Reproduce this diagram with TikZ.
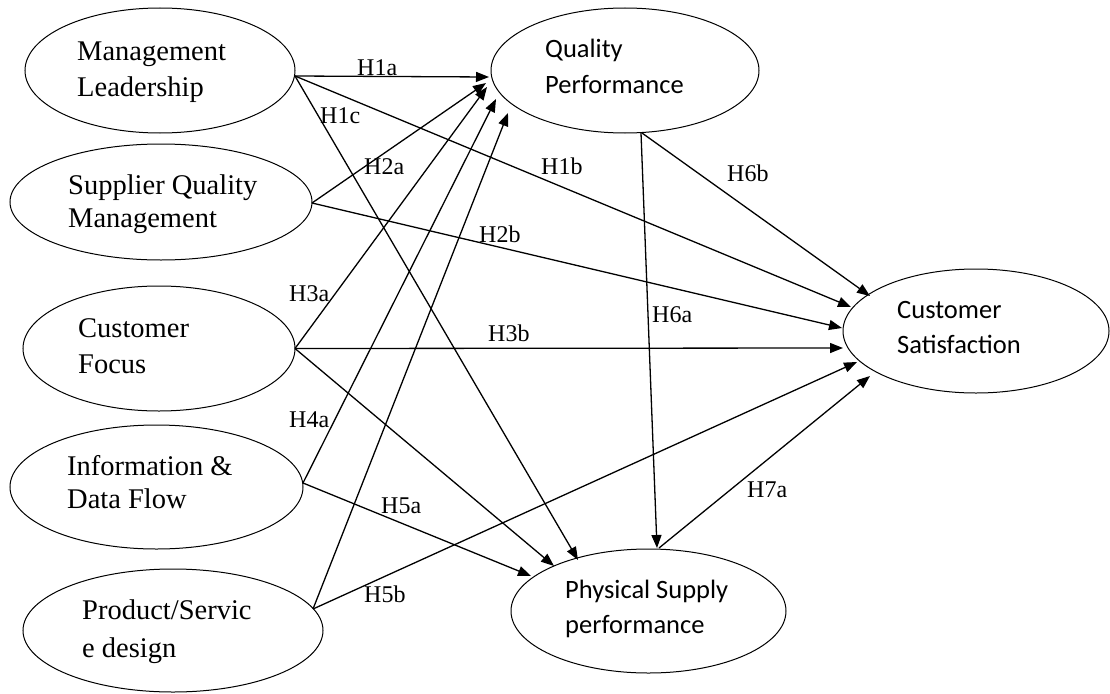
\documentclass[tikz,border=0pt]{standalone}
\usepackage{fontspec}
\setmainfont{Liberation Serif}
\newfontfamily\calibrifont{Carlito}
\usetikzlibrary{arrows.meta,shapes.geometric}

\begin{document}
\begin{tikzpicture}[x=1pt,y=-1pt,
  construct/.style={draw, ellipse, line width=1pt, inner sep=0pt, outer sep=0pt},
  serifname/.style={anchor=base west, inner sep=0pt, font=\fontsize{28.5}{34}\selectfont},
  sansname/.style={anchor=base west, inner sep=0pt, font=\calibrifont\fontsize{26.5}{32}\selectfont},
  hyp/.style={anchor=base west, inner sep=0pt, font=\fontsize{24}{28}\selectfont},
  link/.style={line width=1.3pt, -{Triangle[length=13pt,width=10pt]}}
]
\useasboundingbox (0,0) rectangle (1110,693);

% constructs
\node[construct, minimum width=270pt, minimum height=125pt] (ml)  at (160,70.5) {};
\node[construct, minimum width=302pt, minimum height=116pt] (sqm) at (161,202) {};
\node[construct, minimum width=272pt, minimum height=125pt] (cf)  at (159,348.5) {};
\node[construct, minimum width=293pt, minimum height=124pt] (idf) at (156.5,487) {};
\node[construct, minimum width=300pt, minimum height=123pt] (psd) at (173,630.5) {};
\node[construct, minimum width=268pt, minimum height=125pt] (qp)  at (625,70.5) {};
\node[construct, minimum width=266pt, minimum height=124pt] (cs)  at (976,331) {};
\node[construct, minimum width=275pt, minimum height=124pt] (psp) at (648.5,611) {};

% construct names
\node[serifname] (ml-a)  at (77,60)  {Management};
\node[serifname] (ml-b)  at (77,96)  {Leadership};
\node[serifname] (sqm-a) at (68,194) {Supplier Quality};
\node[serifname] (sqm-b) at (68,227) {Management};
\node[serifname] (cf-a)  at (78,337) {Customer};
\node[serifname] (cf-b)  at (78,373) {Focus};
\node[serifname] (idf-a) at (67,475) {Information \&};
\node[serifname] (idf-b) at (67,508) {Data Flow};
\node[serifname] (psd-a) at (82,619) {Product/Servic};
\node[serifname] (psd-b) at (82,657) {e design};
\node[sansname]  (qp-a)  at (545,58)  {Quality};
\node[sansname]  (qp-b)  at (545,93)  {Performance};
\node[sansname]  (cs-a)  at (897,318) {Customer};
\node[sansname]  (cs-b)  at (897,353) {Satisfaction};
\node[sansname]  (psp-a) at (565,598) {Physical Supply};
\node[sansname]  (psp-b) at (565,633) {performance};

% paths into Quality Performance
\draw[link] ([shift={(135,5.5)}]ml.center)   -- ([shift={(-136,6.5)}]qp.center);
\draw[link] ([shift={(151,1)}]sqm.center)    -- ([shift={(-139,12.5)}]qp.center);
\draw[link] ([shift={(136,0)}]cf.center)     -- ([shift={(-138,16.5)}]qp.center);
\draw[link] ([shift={(146.5,-4)}]idf.center) -- ([shift={(-129,28.5)}]qp.center);
\draw[link] ([shift={(140,-21.5)}]psd.center) -- ([shift={(-117,42.5)}]qp.center);

% paths into Customer Satisfaction
\draw[link] ([shift={(135,5.5)}]ml.center)   -- ([shift={(-125,-24)}]cs.center);
\draw[link] ([shift={(151,1)}]sqm.center)    -- ([shift={(-134,-3)}]cs.center);
\draw[link] ([shift={(136,0)}]cf.center)     -- ([shift={(-133,17)}]cs.center);
\draw[link] ([shift={(140,-21.5)}]psd.center) -- ([shift={(-119,31)}]cs.center);
\draw[link] ([shift={(17,62.5)}]qp.center)   -- ([shift={(-106,-35)}]cs.center);
\draw[link] ([shift={(10.5,-63)}]psp.center) -- ([shift={(-106,45)}]cs.center);

% paths into Physical Supply performance
\draw[link] ([shift={(135,5.5)}]ml.center)   -- ([shift={(-70.5,-51)}]psp.center);
\draw[link] ([shift={(136,0)}]cf.center)     -- ([shift={(-94.5,-45)}]psp.center);
\draw[link] ([shift={(146.5,-4)}]idf.center) -- ([shift={(-117.5,-35)}]psp.center);
\draw[link] ([shift={(16,62.5)}]qp.center)   -- ([shift={(8.5,-63)}]psp.center);

% hypothesis labels
\node[hyp] (h1a) at (357,75)  {H1a};
\node[hyp] (h1b) at (541,174) {H1b};
\node[hyp] (h1c) at (320,123) {H1c};
\node[hyp] (h2a) at (364,174) {H2a};
\node[hyp] (h2b) at (479,242) {H2b};
\node[hyp] (h3a) at (289,301) {H3a};
\node[hyp] (h3b) at (488,341) {H3b};
\node[hyp] (h4a) at (289,427) {H4a};
\node[hyp] (h5a) at (381,513) {H5a};
\node[hyp] (h5b) at (364,602) {H5b};
\node[hyp] (h6a) at (652,322) {H6a};
\node[hyp] (h6b) at (727,181) {H6b};
\node[hyp] (h7a) at (747,497) {H7a};
\end{tikzpicture}
\end{document}
